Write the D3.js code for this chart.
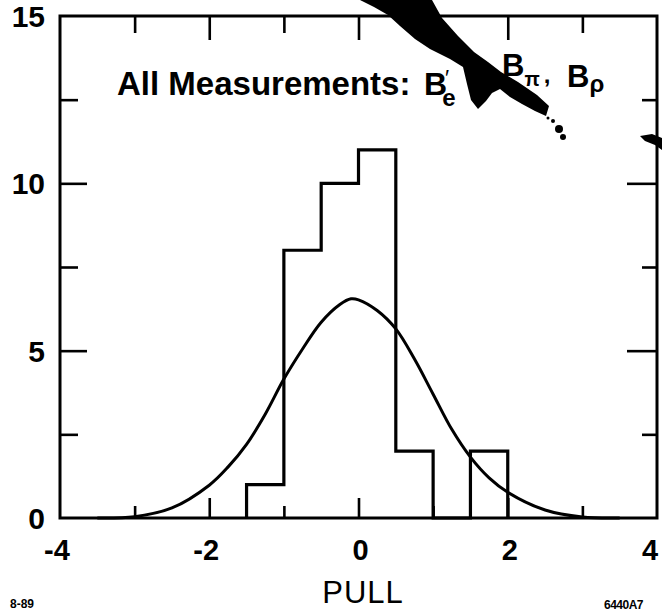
<!DOCTYPE html>
<html>
<head>
<meta charset="utf-8">
<script src="https://cdn.jsdelivr.net/npm/d3@7"></script>
<style>
  html, body { margin: 0; padding: 0; background: #fff; }
  svg { display: block; }
  text { font-family: "Liberation Sans", Arial, Helvetica, sans-serif; fill: #000; }
</style>
</head>
<body>
<svg id="chart" width="662" height="611"></svg>
<script>
// Histogram of pulls: lower bin edges, bin width and entries per bin
const binLow = [-1.5, -1.0, -0.5, 0.0, 0.5, 1.0, 1.5];
const binWidth = 0.5;
const binCounts = [1, 8, 10, 11, 2, 0, 2];

// Gaussian overlay, sampled (pull, entries)
const curveX = [-3.5, -3.0, -2.5, -2.0, -1.75, -1.5, -1.25, -1.0, -0.75, -0.5, -0.25, -0.1, 0.0, 0.25, 0.5, 0.75, 1.0, 1.25, 1.5, 1.75, 2.0, 2.5, 3.0, 3.5];
const curveY = [0, 0.04, 0.3, 0.98, 1.52, 2.2, 3.1, 4.15, 5.05, 5.85, 6.38, 6.55, 6.52, 6.2, 5.65, 4.75, 3.7, 2.65, 1.82, 1.2, 0.77, 0.24, 0.03, 0];

// Axis ticks and labels
const xMajorTicks = [-2, 0, 2];
const xMinorTicks = [-3, -1, 1, 3];
const xLabels = [-4, -2, 0, 2, 4];
const yMajorTicks = [5, 10];
const yMinorTicks = [2.5, 7.5, 12.5];
const yLabels = [0, 5, 10, 15];

const svg = d3.select("#chart");
const x = d3.scaleLinear().domain([-4, 4]).range([60, 657]);
const y = d3.scaleLinear().domain([0, 15]).range([518, 16]);

const ink = "#000";

// inward ticks on all four sides
function ticks(axisFn, values, size, transform) {
  const g = svg.append("g")
    .attr("transform", transform)
    .call(axisFn.tickValues(values).tickSizeInner(-size).tickSizeOuter(0).tickFormat(""));
  g.select(".domain").remove();
  g.selectAll("line").attr("stroke", ink).attr("stroke-width", 2.6);
}
ticks(d3.axisBottom(x), xMajorTicks, 20, `translate(0,${y(0)})`);
ticks(d3.axisBottom(x), xMinorTicks, 12, `translate(0,${y(0)})`);
ticks(d3.axisTop(x), xMajorTicks, 24, `translate(0,${y(15)})`);
ticks(d3.axisTop(x), xMinorTicks, 17, `translate(0,${y(15)})`);
ticks(d3.axisLeft(y), yMajorTicks, 27, `translate(${x(-4)},0)`);
ticks(d3.axisLeft(y), yMinorTicks, 18, `translate(${x(-4)},0)`);
ticks(d3.axisRight(y), yMajorTicks, 30, `translate(${x(4)},0)`);
ticks(d3.axisRight(y), yMinorTicks, 15, `translate(${x(4)},0)`);

// frame
svg.append("rect")
  .attr("x", x(-4)).attr("y", y(15))
  .attr("width", x(4) - x(-4)).attr("height", y(0) - y(15))
  .attr("fill", "none").attr("stroke", ink).attr("stroke-width", 3);

// histogram outline
const lastHi = binLow[binLow.length - 1] + binWidth;
const histPts = [[binLow[0], 0]]
  .concat(binLow.map((lo, i) => [lo, binCounts[i]]))
  .concat([[lastHi, binCounts[binCounts.length - 1]], [lastHi, 0]]);
svg.append("path")
  .attr("d", d3.line().x(d => x(d[0])).y(d => y(d[1])).curve(d3.curveStepAfter)(histPts))
  .attr("fill", "none").attr("stroke", ink).attr("stroke-width", 3.2)
  .attr("stroke-linejoin", "miter");

// gaussian curve
svg.append("path")
  .attr("d", d3.line().x((d, i) => x(curveX[i])).y(d => y(d)).curve(d3.curveCatmullRom.alpha(0.5))(curveY))
  .attr("fill", "none").attr("stroke", ink).attr("stroke-width", 3);

// tick labels
svg.selectAll(".ylab").data(yLabels).join("text")
  .attr("class", "ylab")
  .attr("x", 45).attr("y", d => y(d) + 11)
  .attr("text-anchor", "end")
  .style("font-size", "30px").style("font-weight", "bold")
  .text(d => d);

svg.selectAll(".xlab").data(xLabels).join("text")
  .attr("class", "xlab")
  .attr("x", d => d === 4 ? 650 : x(d) + (d < 0 ? -3 : 2)).attr("y", 560)
  .attr("text-anchor", "middle")
  .style("font-size", "29px").style("font-weight", "bold")
  .text(d => d);

// axis title
svg.append("text")
  .attr("x", 363).attr("y", 603)
  .attr("text-anchor", "middle")
  .style("font-size", "31px").style("letter-spacing", "1px")
  .text("PULL");

// caption
const title = svg.append("g").style("font-weight", "bold");
title.append("text").attr("x", 117).attr("y", 95).style("font-size", "33px").text("All Measurements:");
const be = title.append("text").attr("x", 424).attr("y", 95).style("font-size", "32px");
be.append("tspan").text("B");
be.append("tspan").attr("dx", -2).attr("dy", -10).style("font-size", "22px").style("font-weight", "normal").text("′");
be.append("tspan").attr("dx", -7).attr("dy", 21).style("font-size", "24px").text("e");
const bpi = title.append("text").attr("x", 502).attr("y", 76).style("font-size", "31px");
bpi.append("tspan").text("B");
bpi.append("tspan").attr("dy", 10).style("font-size", "20px").text("π");
bpi.append("tspan").attr("dx", 4).attr("dy", -3).style("font-size", "24px").text(",");
const brho = title.append("text").attr("x", 567).attr("y", 87).style("font-size", "31px");
brho.append("tspan").text("B");
brho.append("tspan").attr("dy", 5).style("font-size", "24px").text("ρ");

// ink smudge running across the caption
svg.append("path")
  .attr("d", "M360,0 L432,0 L442,18 L458,36 L474,52 L488,62 L501,72 L518,82 L537,95 L549,106 L546,116 L535,111 L522,104 L510,97 L500,89 L492,93 L486,101 L478,109 L471,100 L467,84 L463,67 L450,59 L430,49 L415,39 L400,26 L388,15 L374,7 Z")
  .attr("fill", ink);
[[553, 121, 2], [559, 129, 4], [563, 137, 3], [548, 118, 1.5]].forEach(d =>
  svg.append("circle").attr("cx", d[0]).attr("cy", d[1]).attr("r", d[2]).attr("fill", ink));
svg.append("path")
  .attr("d", "M640,136 L652,134 L662,138 L662,150 L655,145 L645,141 Z")
  .attr("fill", ink);

// plate numbers
svg.append("text").attr("x", 10).attr("y", 608)
  .style("font-size", "12px").style("font-weight", "bold").text("8-89");
svg.append("text").attr("x", 604).attr("y", 609)
  .style("font-size", "12px").style("font-weight", "bold").style("letter-spacing", "-0.5px").text("6440A7");
</script>
</body>
</html>
